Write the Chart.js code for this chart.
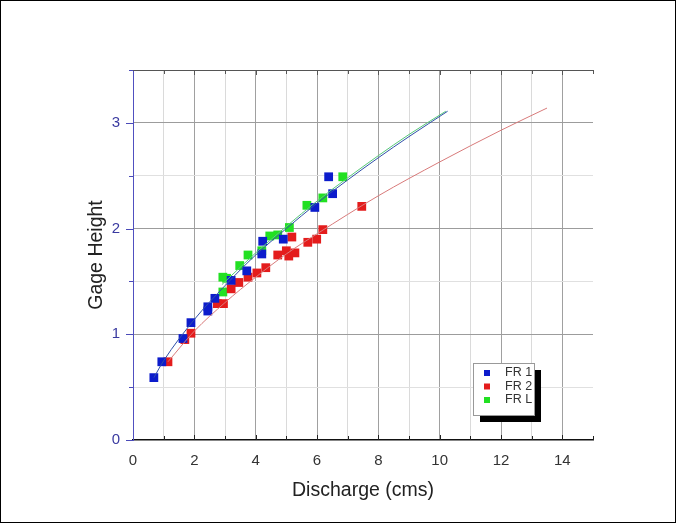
<!DOCTYPE html>
<html>
<head>
<meta charset="utf-8">
<script src="https://cdn.jsdelivr.net/npm/chart.js@4/dist/chart.umd.min.js"></script>
<style>
  html, body { margin: 0; padding: 0; background: #fff; }
  #wrap { width: 676px; height: 523px; position: relative; }
</style>
</head>
<body>
<div id="wrap"><canvas id="ratingChart"></canvas></div>
<script>
// measured points, discharge (cms) vs gage height
const fr1X = [0.68, 0.94, 1.63, 1.89, 2.44, 2.44, 2.67, 3.2, 3.71, 4.2, 4.23, 4.9, 5.93, 6.38, 6.51];
const fr1Y = [0.59, 0.74, 0.96, 1.11, 1.26, 1.22, 1.34, 1.51, 1.60, 1.76, 1.88, 1.90, 2.20, 2.49, 2.33];

const fr2X = [1.14, 1.69, 1.89, 2.75, 2.95, 3.2, 3.45, 3.75, 4.04, 4.33, 4.72, 5.0, 5.08, 5.28, 5.18, 5.7, 5.99, 6.19, 7.46];
const fr2Y = [0.74, 0.95, 1.01, 1.29, 1.29, 1.43, 1.49, 1.54, 1.58, 1.63, 1.75, 1.79, 1.74, 1.77, 1.92, 1.87, 1.90, 1.99, 2.21];

const frLX = [2.93, 2.93, 3.05, 3.48, 3.75, 4.2, 4.46, 4.72, 5.1, 5.67, 6.19, 6.84];
const frLY = [1.40, 1.54, 1.53, 1.65, 1.75, 1.79, 1.93, 1.94, 2.01, 2.22, 2.29, 2.49];

// rating curves
const fit1X = [0.68, 1, 2, 3, 4, 5, 6, 7, 8, 9, 10.26];
const fit1Y = [0.59, 0.75, 1.14, 1.46, 1.75, 2.00, 2.24, 2.46, 2.67, 2.87, 3.11];
const fit2X = [1.14, 2, 3, 4, 5, 6, 8, 10, 12, 13.5];
const fit2Y = [0.74, 1.03, 1.30, 1.54, 1.76, 1.95, 2.31, 2.63, 2.93, 3.14];
const fitLX = [2.9, 4, 5, 6, 7, 8, 9, 10.2];
const fitLY = [1.47, 1.77, 2.02, 2.26, 2.48, 2.69, 2.89, 3.11];

const xTickLabels = [0, 2, 4, 6, 8, 10, 12, 14];
const yTickLabels = [0, 1, 2, 3];

const pts = (xs, ys) => xs.map((x, i) => ({ x: x, y: ys[i] }));

const FONT = '"Liberation Sans", Arial, sans-serif';

function curve(label, xs, ys, color) {
    return {
        label: label, data: pts(xs, ys), showLine: true,
        borderColor: color, borderWidth: 1, pointRadius: 0,
        cubicInterpolationMode: 'monotone', fill: false, order: 0, isFit: true
    };
}
function markers(label, xs, ys, color) {
    return {
        label: label, data: pts(xs, ys), showLine: false,
        pointStyle: 'rect', pointRadius: 6.2, pointHoverRadius: 6.2,
        backgroundColor: color, borderColor: color, borderWidth: 0, order: 1
    };
}

// tick marks, top frame, legend box and outer border
const decorations = {
    id: 'decorations',
    afterDraw(chart) {
        const ctx = chart.ctx;
        const xs = chart.scales.x, ys = chart.scales.y;
        const a = chart.chartArea;
        ctx.save();
        ctx.lineWidth = 1;

        // top frame line
        ctx.strokeStyle = '#555';
        ctx.beginPath();
        ctx.moveTo(a.left, a.top + 0.5);
        ctx.lineTo(a.right, a.top + 0.5);
        ctx.stroke();

        // inward ticks on bottom and top
        for (let v = 1; v <= 15; v++) {
            const px = Math.round(xs.getPixelForValue(v)) + 0.5;
            const len = v % 2 === 0 ? 5 : 4;
            ctx.strokeStyle = '#222';
            ctx.beginPath();
            ctx.moveTo(px, a.bottom);
            ctx.lineTo(px, a.bottom - len);
            ctx.stroke();
            ctx.strokeStyle = '#555';
            ctx.beginPath();
            ctx.moveTo(px, a.top);
            ctx.lineTo(px, a.top + len);
            ctx.stroke();
        }

        // outward ticks on the left axis
        ctx.strokeStyle = '#4a4ab8';
        for (let v = 0; v <= 3.5; v += 0.5) {
            const py = Math.round(ys.getPixelForValue(v)) + 0.5;
            const len = Number.isInteger(v) ? 7 : 4;
            ctx.beginPath();
            ctx.moveTo(a.left, py);
            ctx.lineTo(a.left - len, py);
            ctx.stroke();
        }

        // legend
        const bx = a.right - 120, by = a.bottom - 77, bw = 61, bh = 52;
        ctx.fillStyle = '#000';
        ctx.fillRect(bx + 7, by + 7, bw, bh);
        ctx.fillStyle = '#fff';
        ctx.fillRect(bx, by, bw, bh);
        ctx.strokeStyle = '#999';
        ctx.strokeRect(bx + 0.5, by + 0.5, bw, bh);
        ctx.font = '12.5px ' + FONT;
        ctx.textBaseline = 'middle';
        let row = 0;
        chart.data.datasets.forEach(ds => {
            if (ds.isFit) return;
            const cy = by + 10 + row * 13.5;
            ctx.fillStyle = ds.backgroundColor;
            ctx.fillRect(bx + 11, cy - 3, 6, 6);
            ctx.fillStyle = '#333';
            ctx.fillText(ds.label, bx + 32, cy);
            row++;
        });

        // picture border
        ctx.strokeStyle = '#000';
        ctx.strokeRect(0.5, 0.5, chart.width - 1, chart.height - 1);
        ctx.restore();
    }
};

new Chart(document.getElementById('ratingChart').getContext('2d'), {
    type: 'scatter',
    data: {
        datasets: [
            curve('FR 1 fit', fit1X, fit1Y, '#2f4fa8'),
            curve('FR L fit', fitLX, fitLY, '#56c878'),
            curve('FR 2 fit', fit2X, fit2Y, '#d87a7a'),
            markers('FR 1', fr1X, fr1Y, '#0c1ccc'),
            markers('FR 2', fr2X, fr2Y, '#e41c1c'),
            markers('FR L', frLX, frLY, '#22e022')
        ]
    },
    options: {
        responsive: true,
        maintainAspectRatio: false,
        animation: false,
        layout: { padding: { left: 85, top: 70, right: 83, bottom: 21 } },
        plugins: {
            legend: { display: false },
            tooltip: { enabled: false }
        },
        scales: {
            x: {
                type: 'linear', min: 0, max: 15,
                afterFit: s => { s.height = 62; },
                border: { color: '#111', width: 1.5 },
                grid: {
                    drawTicks: false,
                    color: c => {
                        const v = c.tick.value;
                        if (v === 0 || v === 15) return 'rgba(0,0,0,0)';
                        return v % 2 === 0 ? '#a0a0a0' : '#dadada';
                    }
                },
                ticks: {
                    stepSize: 1, padding: 12, color: '#333',
                    font: { family: FONT, size: 15 },
                    callback: v => xTickLabels.includes(v) ? String(v) : ''
                },
                title: {
                    display: true, text: 'Discharge (cms)', color: '#222', padding: 0,
                    font: { family: FONT, size: 19.5 }
                }
            },
            y: {
                type: 'linear', min: 0, max: 3.5,
                afterFit: s => { s.width = 48; },
                border: { color: '#5050c0', width: 1 },
                grid: {
                    drawTicks: false,
                    color: c => {
                        const v = c.tick.value;
                        if (v === 0 || v === 3.5) return 'rgba(0,0,0,0)';
                        return Number.isInteger(v) ? '#9c9c9c' : '#e0e0e0';
                    }
                },
                ticks: {
                    stepSize: 0.5, padding: 13, color: '#3a3aa0',
                    font: { family: FONT, size: 15 },
                    callback: v => yTickLabels.includes(v) ? String(v) : ''
                },
                title: {
                    display: true, text: 'Gage Height', color: '#222', padding: 0,
                    font: { family: FONT, size: 19.5 }
                }
            }
        }
    },
    plugins: [decorations]
});
</script>
</body>
</html>
